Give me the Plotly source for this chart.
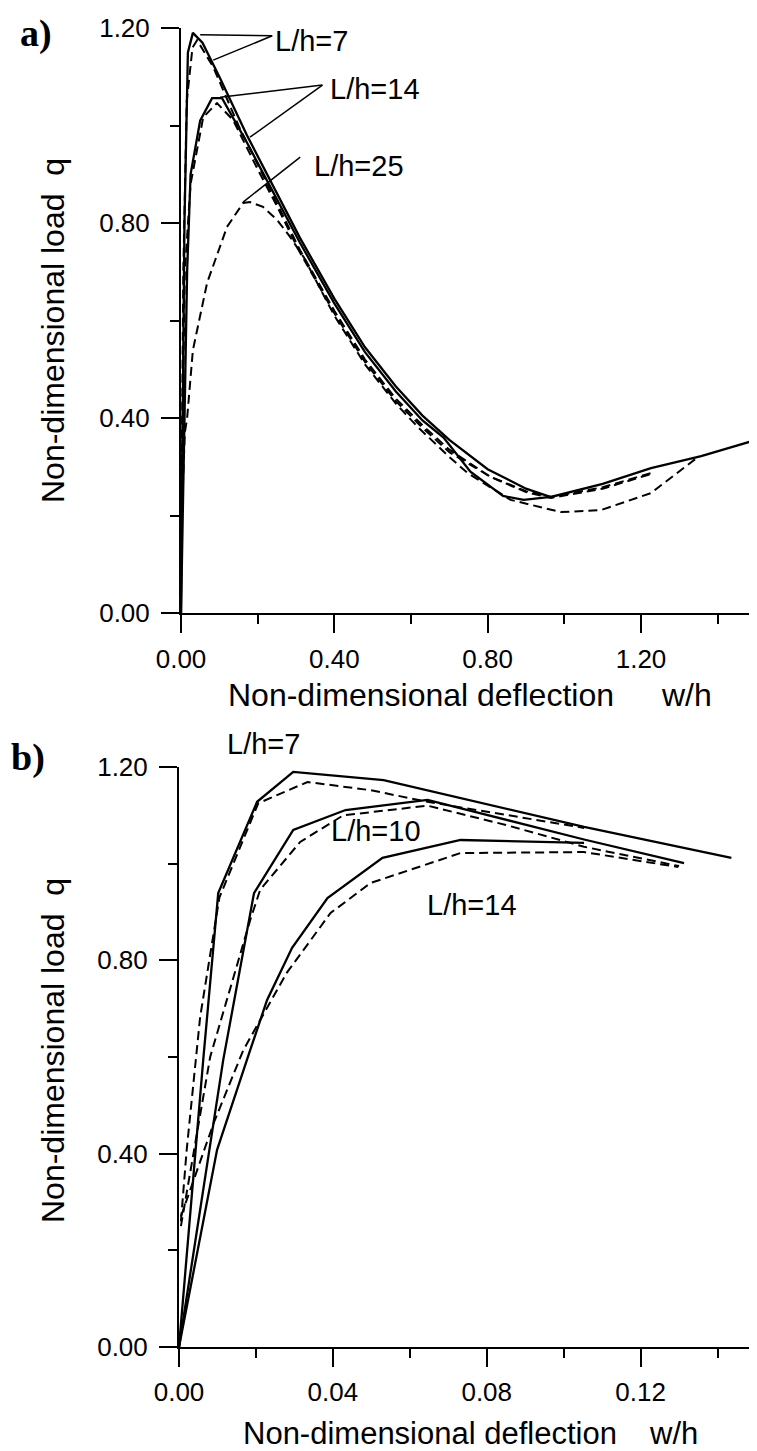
import plotly.graph_objects as go

# ---------------- Panel a data (w/h, q) ----------------
a_sol7_x = [0, 0.004, 0.009, 0.018, 0.031, 0.056, 0.10, 0.172, 0.25, 0.31, 0.40, 0.48, 0.56, 0.63, 0.70, 0.80, 0.90, 0.965, 1.10, 1.226, 1.357, 1.50]
a_sol7_q = [0, 0.40, 0.80, 1.15, 1.19, 1.17, 1.10, 0.98, 0.86, 0.77, 0.645, 0.545, 0.465, 0.405, 0.355, 0.295, 0.255, 0.238, 0.265, 0.297, 0.322, 0.355]

a_sol14_x = [0, 0.008, 0.016, 0.025, 0.05, 0.081, 0.107, 0.172, 0.25, 0.31, 0.40, 0.48, 0.56, 0.63, 0.685, 0.755, 0.84, 0.894, 0.965]
a_sol14_q = [0, 0.35, 0.70, 0.90, 1.01, 1.056, 1.056, 0.965, 0.85, 0.76, 0.635, 0.535, 0.455, 0.395, 0.36, 0.29, 0.24, 0.232, 0.238]

a_dash7_x = [0.002, 0.006, 0.015, 0.03, 0.042, 0.084, 0.15, 0.25, 0.31, 0.40, 0.48, 0.56, 0.63, 0.70, 0.808, 0.90, 0.965, 1.10, 1.226]
a_dash7_q = [0.30, 0.70, 1.05, 1.16, 1.175, 1.12, 1.0, 0.84, 0.745, 0.62, 0.52, 0.44, 0.385, 0.335, 0.279, 0.25, 0.238, 0.258, 0.287]

a_dash14_x = [0.002, 0.01, 0.025, 0.044, 0.058, 0.094, 0.136, 0.2, 0.25, 0.31, 0.40, 0.48, 0.56, 0.63, 0.70, 0.808, 0.90, 0.965, 1.10, 1.226]
a_dash14_q = [0.28, 0.70, 0.88, 0.956, 1.017, 1.046, 1.011, 0.91, 0.835, 0.74, 0.615, 0.515, 0.435, 0.38, 0.33, 0.279, 0.248, 0.236, 0.255, 0.285]

a_dash25_x = [0.002, 0.01, 0.016, 0.031, 0.068, 0.12, 0.162, 0.18, 0.214, 0.251, 0.285, 0.32, 0.40, 0.48, 0.56, 0.617, 0.70, 0.748, 0.86, 0.991, 1.095, 1.226, 1.339, 1.35]
a_dash25_q = [0.20, 0.37, 0.40, 0.539, 0.677, 0.792, 0.841, 0.843, 0.833, 0.806, 0.771, 0.73, 0.61, 0.51, 0.43, 0.382, 0.32, 0.287, 0.232, 0.207, 0.211, 0.246, 0.314, 0.32]

# ---------------- Panel b data (w/h, q) ----------------
b_sol7_x = [0, 0.0063, 0.0102, 0.0203, 0.0297, 0.0532, 0.1053, 0.1436]
b_sol7_q = [0, 0.594, 0.939, 1.128, 1.19, 1.173, 1.076, 1.012]
b_dash7_x = [0.0005, 0.002, 0.0055, 0.0105, 0.0206, 0.0334, 0.0498, 0.0646, 0.1053]
b_dash7_q = [0.26, 0.408, 0.683, 0.93, 1.125, 1.169, 1.152, 1.128, 1.074]

b_sol10_x = [0, 0.0115, 0.0195, 0.0297, 0.0433, 0.0646, 0.1053, 0.1313]
b_sol10_q = [0, 0.594, 0.939, 1.07, 1.111, 1.132, 1.05, 1.001]
b_dash10_x = [0.0005, 0.0081, 0.0185, 0.0211, 0.0315, 0.0427, 0.0646, 0.085, 0.1053, 0.130]
b_dash10_q = [0.25, 0.60, 0.883, 0.946, 1.045, 1.10, 1.12, 1.08, 1.035, 0.995]

b_sol14_x = [0, 0.0099, 0.0185, 0.0229, 0.0294, 0.0386, 0.0529, 0.0732, 0.1053]
b_sol14_q = [0, 0.408, 0.614, 0.718, 0.826, 0.929, 1.012, 1.049, 1.043]
b_dash14_x = [0.0005, 0.009, 0.0167, 0.028, 0.0394, 0.0498, 0.0732, 0.1053, 0.1298]
b_dash14_q = [0.27, 0.463, 0.614, 0.774, 0.898, 0.96, 1.022, 1.024, 0.993]

# tick values / labels
a_xticks = [0.0, 0.4, 0.8, 1.2]
b_xticks = [0.0, 0.04, 0.08, 0.12]
yticks = [0.0, 0.4, 0.8, 1.2]

W, H = 757, 1451
OFF = 8  # page body margin of the browser
FONT = "Liberation Sans, Arial, sans-serif"
DASH = "9px,5px"

fig = go.Figure()

def add(x, y, dashed, xa, ya):
    fig.add_trace(go.Scatter(
        x=x, y=y, mode="lines", xaxis=xa, yaxis=ya, showlegend=False,
        line=dict(color="black", width=2.0 if dashed else 2.3, dash=DASH if dashed else "solid"),
        hoverinfo="skip"))

for x, y, d in [(a_sol7_x, a_sol7_q, False), (a_sol14_x, a_sol14_q, False),
                (a_dash7_x, a_dash7_q, True), (a_dash14_x, a_dash14_q, True),
                (a_dash25_x, a_dash25_q, True)]:
    add(x, y, d, "x", "y")

for x, y, d in [(b_sol7_x, b_sol7_q, False), (b_dash7_x, b_dash7_q, True),
                (b_sol10_x, b_sol10_q, False), (b_dash10_x, b_dash10_q, True),
                (b_sol14_x, b_sol14_q, False), (b_dash14_x, b_dash14_q, True)]:
    add(x, y, d, "x2", "y2")

def px_x(p):
    return (p - OFF) / W

def px_y(p):
    return 1 - (p - OFF) / H

tickfont = dict(family=FONT, size=26, color="black")
common = dict(showgrid=False, zeroline=False, showline=True, linecolor="black", linewidth=2,
              ticks="outside", ticklen=18, tickwidth=2, tickcolor="black",
              tickfont=tickfont, tickformat=".2f", mirror=False, automargin=False)

def minor(dt):
    return dict(dtick=dt, tick0=0, ticks="outside", ticklen=9, tickwidth=2, tickcolor="black")

fig.update_layout(
    width=W, height=H, margin=dict(l=0, r=0, t=0, b=0, pad=0, autoexpand=False),
    paper_bgcolor="white", plot_bgcolor="white",
    xaxis=dict(domain=[px_x(181), px_x(756)], range=[0, 1.5], tickvals=a_xticks,
               minor=minor(0.2), anchor="y", ticklabelstandoff=4, **common),
    yaxis=dict(domain=[px_y(613), px_y(28)], range=[0, 1.2], tickvals=yticks,
               minor=minor(0.2), anchor="x", ticklabelstandoff=6, **common),
    xaxis2=dict(domain=[px_x(179), px_x(756)], range=[0, 0.15], tickvals=b_xticks,
                minor=minor(0.02), anchor="y2", ticklabelstandoff=3, **common),
    yaxis2=dict(domain=[px_y(1347), px_y(767)], range=[0, 1.2], tickvals=yticks,
                minor=minor(0.2), anchor="x2", ticklabelstandoff=6, **common),
)

ann = []
labfont = dict(family=FONT, size=29, color="black")
titlefont = dict(family=FONT, size=32, color="black")

def pann(text, xp, yp, font, angle=0):
    ann.append(dict(text=text, x=px_x(xp), y=px_y(yp), xref="paper", yref="paper",
                    xanchor="center", yanchor="middle", textangle=angle,
                    showarrow=False, font=font))

# curve labels, panel a
for txt, x, y in [("L/h=7", 0.34, 1.173), ("L/h=14", 0.507, 1.075), ("L/h=25", 0.465, 0.917)]:
    ann.append(dict(text=txt, x=x, y=y, xref="x", yref="y", xanchor="center", yanchor="middle",
                    showarrow=False, font=labfont))
# curve labels, panel b
pann("L/h=7", 263, 744, labfont)
for txt, x, y in [("L/h=10", 0.0511, 1.068), ("L/h=14", 0.0761, 0.915)]:
    ann.append(dict(text=txt, x=x, y=y, xref="x2", yref="y2", xanchor="center", yanchor="middle",
                    showarrow=False, font=labfont))

# axis titles
pann("Non-dimensional load  q", 53, 331, titlefont, -90)
pann("Non-dimensional load  q", 53, 1051, titlefont, -90)
pann("Non-dimensional deflection", 421, 695, titlefont)
pann("w/h", 686, 695, titlefont)
pann("Non-dimensional deflection", 430, 1433, dict(family=FONT, size=31, color="black"))
pann("w/h", 673, 1433, dict(family=FONT, size=31, color="black"))

# panel letters
pfont = dict(family="Liberation Serif, Times New Roman, serif", size=38, color="black")
pann("<b>a)</b>", 36, 33, pfont)
pann("<b>b)</b>", 28, 757, pfont)

fig.update_layout(annotations=ann)

# leader lines for panel a labels (x0,y0 at label, x1,y1 at curve)
leaders = [
    (0.238, 1.184, 0.05, 1.186),
    (0.238, 1.184, 0.084, 1.134),
    (0.369, 1.083, 0.102, 1.058),
    (0.369, 1.083, 0.18, 0.976),
    (0.311, 0.935, 0.162, 0.843),
]
for x0, y0, x1, y1 in leaders:
    fig.add_shape(type="line", x0=x0, y0=y0, x1=x1, y1=y1, xref="x", yref="y",
                  line=dict(color="black", width=1.5))

fig.write_html("out.html")
